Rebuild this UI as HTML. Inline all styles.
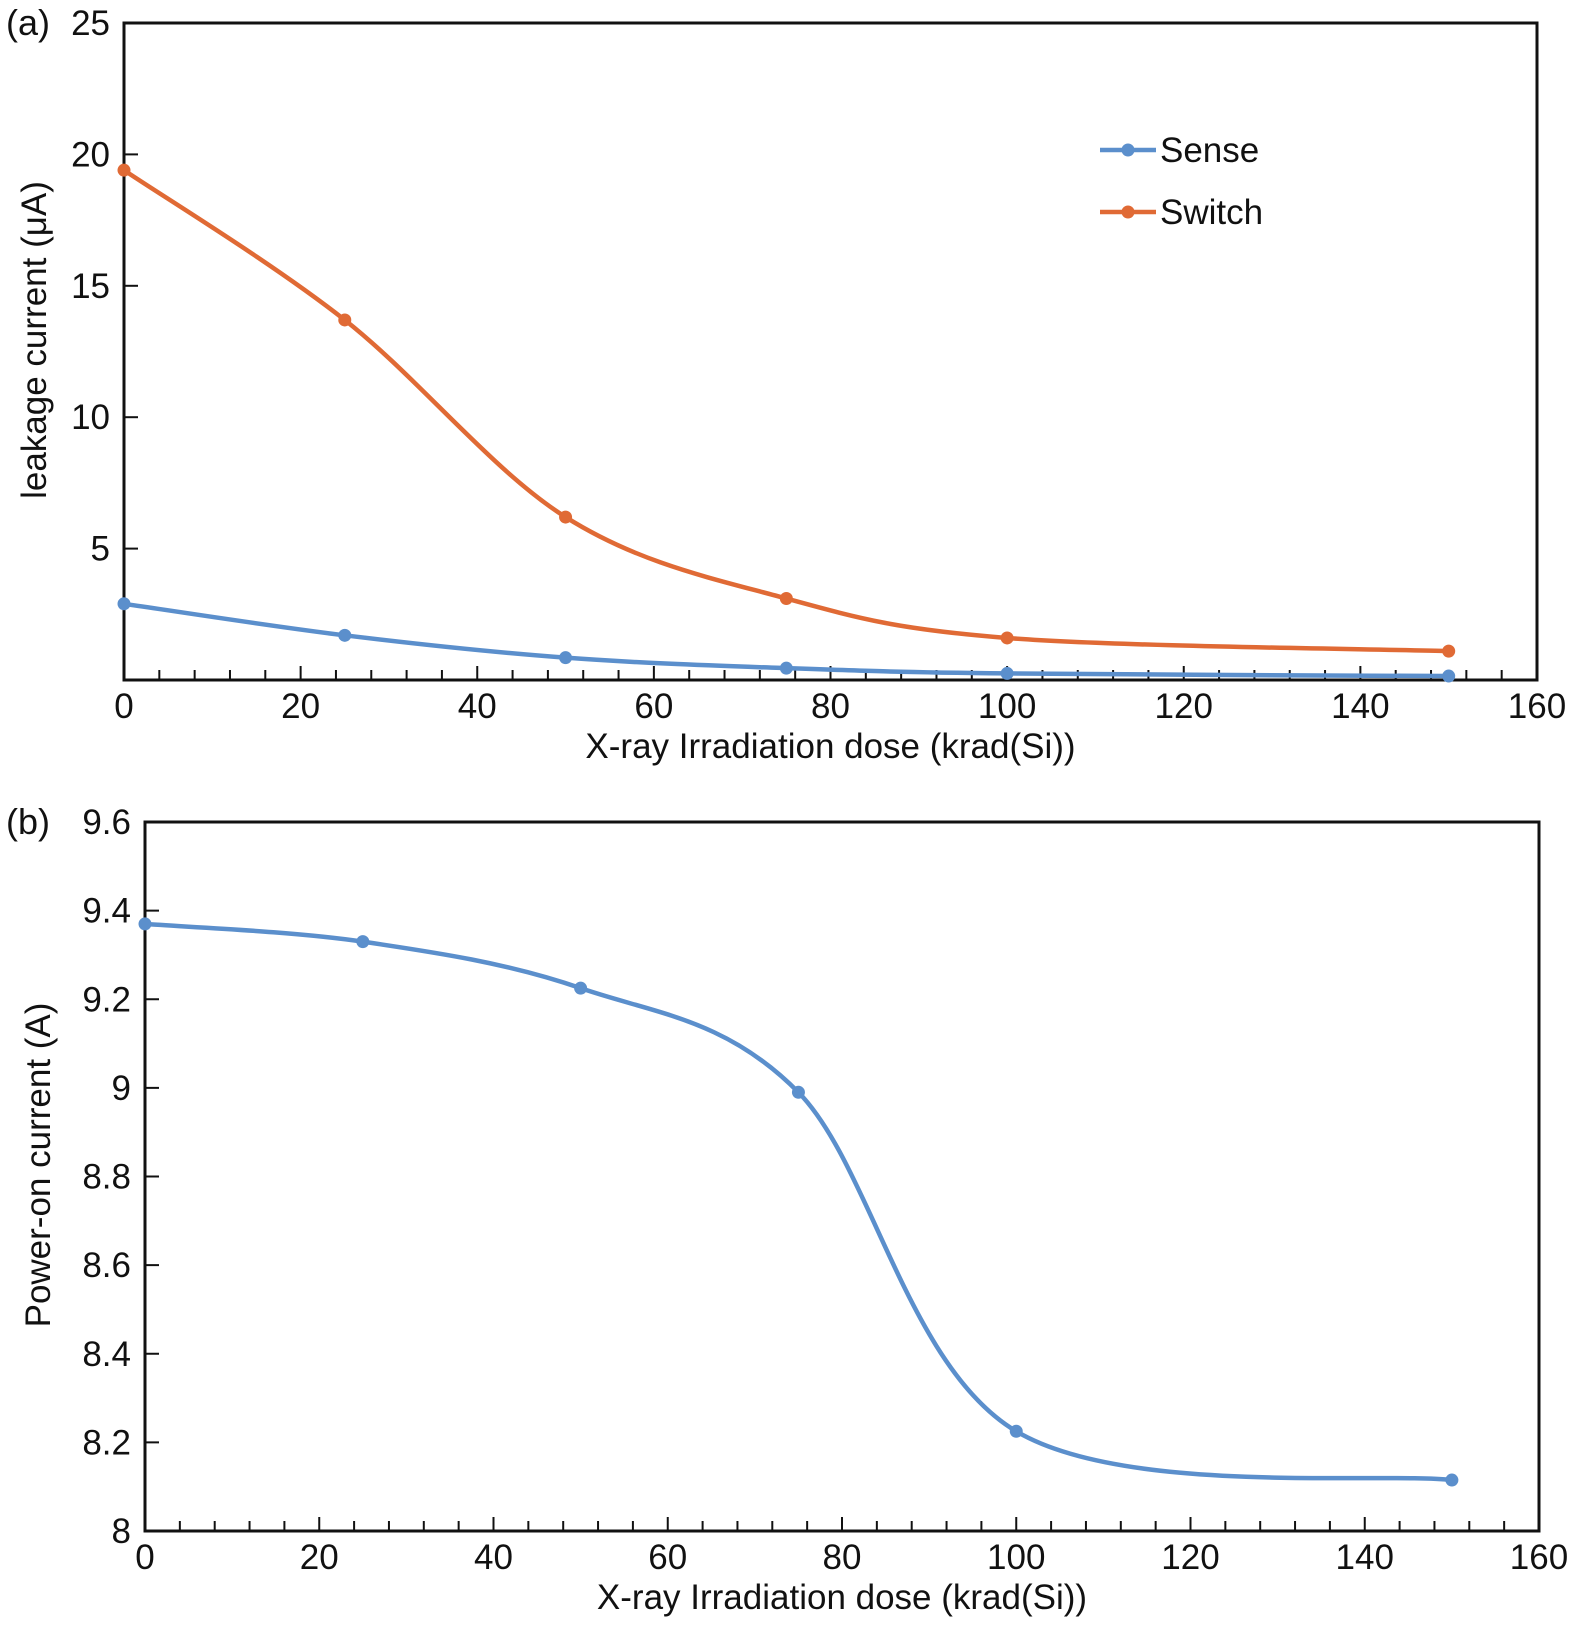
<!DOCTYPE html>
<html><head><meta charset="utf-8"><style>
body{margin:0;background:#fff}
svg text{font-family:"Liberation Sans","DejaVu Sans",sans-serif;fill:#111}
</style></head><body>
<svg id="c" width="1575" height="1628" viewBox="0 0 1575 1628" xmlns="http://www.w3.org/2000/svg"></svg>
<script>
const doses=[0,25,50,75,100,150];
const switchVals=[19.4,13.7,6.2,3.1,1.6,1.1];
const senseVals=[2.9,1.7,0.85,0.45,0.25,0.15];
const powerVals=[9.37,9.33,9.225,8.99,8.225,8.115];
const xTicks=[0,20,40,60,80,100,120,140,160];
const yTicksA=[5,10,15,20,25];
const yTicksB=[8,8.2,8.4,8.6,8.8,9,9.2,9.4,9.6];
const NS='http://www.w3.org/2000/svg';
const svg=document.getElementById('c');
function mk(t,a,p){const e=document.createElementNS(NS,t);for(const k in a)e.setAttribute(k,a[k]);(p||svg).appendChild(e);return e;}
function smooth(pts){let d='M'+pts[0][0]+','+pts[0][1];for(let i=0;i<pts.length-1;i++){const p0=pts[i-1]||pts[i],p1=pts[i],p2=pts[i+1],p3=pts[i+2]||p2;const t=6;d+=' C'+(p1[0]+(p2[0]-p0[0])/t)+','+(p1[1]+(p2[1]-p0[1])/t)+' '+(p2[0]-(p3[0]-p1[0])/t)+','+(p2[1]-(p3[1]-p1[1])/t)+' '+p2[0]+','+p2[1];}return d;}
function panel(o){
  const g=mk('g',{});
  
  
  const X=v=>o.l+(v-0)/160*(o.r-o.l), Y=v=>o.b-(v-o.ymin)/(o.ymax-o.ymin)*(o.b-o.t);
  const frame=mk('rect',{x:o.l,y:o.t,width:o.r-o.l,height:o.b-o.t,fill:'none',stroke:'#111','stroke-width':3},g);
  
  
  for(let v=0;v<=160;v+=4){const major=v%20==0;mk('line',{x1:X(v),x2:X(v),y1:o.b,y2:o.b-(major?14:10),stroke:'#111','stroke-width':2},g);}
  xTicks.forEach(v=>{const t=mk('text',{x:X(v),y:o.b+38,'font-size':35,'text-anchor':'middle'},g);t.textContent=v;
    
    });
  o.yt.forEach(v=>{const y=Y(v);mk('line',{x1:o.l,x2:o.l+14,y1:y,y2:y,stroke:'#111','stroke-width':2},g);
    const t=mk('text',{x:o.l-14,y:y+12,'font-size':35,'text-anchor':'end'},g);t.textContent=v;
    
    });
  const xt=mk('text',{x:(o.l+o.r)/2,y:o.b+78,'font-size':35,'text-anchor':'middle'},g);xt.textContent='X-ray Irradiation dose  (krad(Si))';
  
  
  const yt=mk('text',{x:0,y:0,'font-size':35,'text-anchor':'middle',transform:`translate(${o.ytx},${o.yty}) rotate(-90)`},g);yt.textContent=o.ytitle;
  
  
  const pl=mk('text',{x:6,y:o.t+12,'font-size':36},g);pl.textContent=o.plabel;
  
  
  o.series.forEach(s=>{
    const pts=doses.map((d,i)=>[X(d),Y(s.vals[i])]);
    const p=mk('path',{d:smooth(pts),fill:'none',stroke:s.color,'stroke-width':4.5},g);
    
    
    pts.forEach(q=>{const c=mk('circle',{cx:q[0],cy:q[1],r:6.5,fill:s.color},g);
      
      });
  });
}
panel({name:'panel-a',l:124,r:1537,t:23,b:680,ymin:0,ymax:25,yt:yTicksA,ytitle:'leakage current (μA)',ytx:46,yty:340,plabel:'(a)',
  series:[{name:'switch',vals:switchVals,color:'#e06a35'},{name:'sense',vals:senseVals,color:'#5b8fcc'}]});
panel({name:'panel-b',l:145,r:1539,t:822,b:1531,ymin:8,ymax:9.6,yt:yTicksB,ytitle:'Power-on current (A)',ytx:50,yty:1165,plabel:'(b)',
  series:[{name:'power-on',vals:powerVals,color:'#5b8fcc'}]});
[['Sense','#5b8fcc',150],['Switch','#e06a35',212]].forEach(e=>{
  const g=mk('g',{});
  
  
  mk('line',{x1:1100,x2:1156,y1:e[2],y2:e[2],stroke:e[1],'stroke-width':4.5},g);
  mk('circle',{cx:1128,cy:e[2],r:6.5,fill:e[1]},g);
  const t=mk('text',{x:1160,y:e[2]+12,'font-size':35},g);t.textContent=e[0];
});
</script>
</body></html>
